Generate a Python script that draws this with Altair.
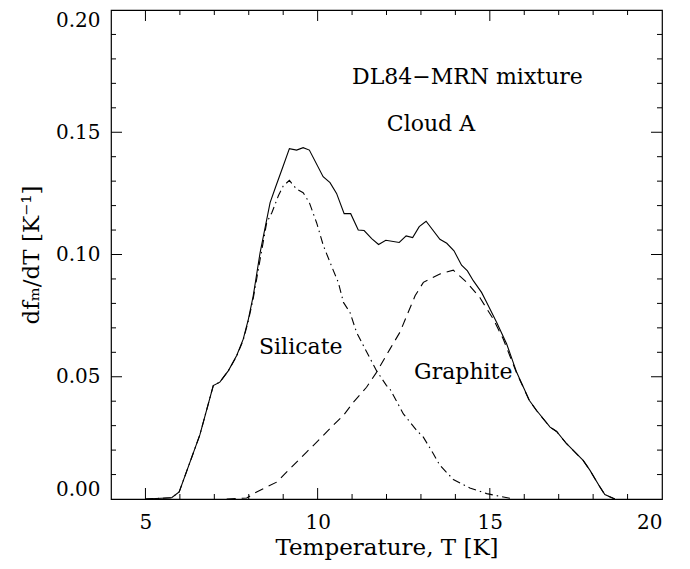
import altair as alt
import pandas as pd

# ---- data ----
total_T = [5.0, 5.76, 5.98, 6.58, 6.97, 7.16, 7.41, 7.65, 7.84, 7.99, 8.13, 8.33, 8.62, 8.79, 9.0, 9.18,
           9.39, 9.58, 9.76, 10.16, 10.36, 10.55, 10.77, 10.96, 11.18, 11.35, 11.57, 11.77, 11.98, 12.37,
           12.57, 12.76, 12.95, 13.15, 13.55, 13.75, 13.96, 14.18, 14.35, 14.52, 14.76, 14.91, 15.2,
           15.49, 15.78, 16.15, 16.36, 16.75, 16.94, 17.23, 17.71, 17.91, 18.18, 18.34, 18.63]
total_v = [0.0, 0.0005, 0.0029, 0.0262, 0.0464, 0.0478, 0.0525, 0.0587, 0.0654, 0.0736, 0.0831, 0.1008,
           0.1212, 0.128, 0.1362, 0.1433, 0.1427, 0.1437, 0.1427, 0.1318, 0.1294, 0.125, 0.1167, 0.1167,
           0.110, 0.1098, 0.1065, 0.1041, 0.1058, 0.1049, 0.1076, 0.1069, 0.1114, 0.1136, 0.1062, 0.1046,
           0.1015, 0.0956, 0.0933, 0.0893, 0.0845, 0.0804, 0.0722, 0.0634, 0.0518, 0.0403, 0.0362,
           0.0294, 0.0276, 0.0226, 0.0158, 0.0117, 0.0053, 0.0018, 0.0]

silicate_T = [5.0, 5.76, 5.98, 6.58, 6.97, 7.16, 7.41, 7.65, 7.84, 7.99, 8.13, 8.33, 8.52, 8.67, 8.86,
              9.0, 9.18, 9.39, 9.58, 9.76, 9.97, 10.17, 10.44, 10.6, 10.75, 10.94, 11.13, 11.33, 11.71,
              12.0, 12.1, 12.49, 12.88, 13.07, 13.36, 13.55, 13.94, 14.42, 14.91, 15.68]
silicate_v = [0.0, 0.0005, 0.0029, 0.0262, 0.0464, 0.0478, 0.0525, 0.0585, 0.065, 0.073, 0.082, 0.098,
              0.113, 0.1171, 0.124, 0.128, 0.1303, 0.1267, 0.1253, 0.1212, 0.113, 0.1035, 0.094, 0.0886,
              0.0804, 0.0763, 0.0682, 0.0627, 0.0525, 0.0464, 0.045, 0.0348, 0.028, 0.0253, 0.0185,
              0.0138, 0.0080, 0.0045, 0.0022, 0.0]

graphite_T = [7.36, 7.94, 8.23, 8.81, 9.2, 9.68, 10.07, 10.45, 10.75, 11.04, 11.42, 11.71, 12.1, 12.39,
              12.59, 12.83, 13.07, 13.55, 13.94, 14.33, 14.71, 15.1, 15.39, 15.78, 16.15, 16.36, 16.75,
              16.94, 17.23, 17.71, 17.91, 18.18, 18.34, 18.63]
graphite_v = [0.0, 0.0004, 0.0029, 0.0069, 0.0124, 0.0192, 0.0246, 0.0301, 0.0342, 0.0396, 0.0457,
              0.0518, 0.0613, 0.0682, 0.075, 0.0831, 0.0886, 0.092, 0.0936, 0.0886, 0.0824, 0.0736,
              0.0654, 0.0515, 0.0402, 0.0361, 0.0294, 0.0276, 0.0226, 0.0158, 0.0117, 0.0053, 0.0018, 0.0]

x_label_values = [5, 10, 15, 20]
y_label_values = [0.0, 0.05, 0.10, 0.15, 0.20]
x_major_ticks = [5, 10, 15]
x_minor_ticks = [6, 7, 8, 9, 11, 12, 13, 14, 16, 17, 18, 19]
y_major_ticks = [0.05, 0.10, 0.15]
y_minor_ticks = [0.01, 0.02, 0.03, 0.04, 0.06, 0.07, 0.08, 0.09, 0.11, 0.12, 0.13, 0.14,
                 0.16, 0.17, 0.18, 0.19]

note_text = ["DL84\u2212MRN mixture", "Cloud A", "Silicate", "Graphite"]
note_T = [14.35, 13.29, 9.51, 14.23]
note_v = [0.1727, 0.1532, 0.062, 0.0518]

# ---- layout ----
W, H = 551, 489
FONT = "DejaVu Serif"

xs = alt.Scale(domain=[4, 20], nice=False, zero=False)
ys = alt.Scale(domain=[0, 0.2], nice=False, zero=False)

xaxis = alt.Axis(values=x_label_values, format="d", ticks=False, domain=False, grid=False,
                 labelFont=FONT, labelFontSize=20, labelColor="black", labelPadding=13,
                 title="Temperature, T [K]", titleFont=FONT, titleFontSize=23,
                 titleFontWeight="normal", titleColor="black", titlePadding=4)
yaxis = alt.Axis(values=y_label_values, format=".2f", ticks=False, domain=False, grid=False,
                 labelFont=FONT, labelFontSize=20, labelColor="black", labelPadding=11,
                 labelFlush=True,
                 title="df\u2098/dT [K\u207b\u00b9]", titleFont=FONT, titleFontSize=23,
                 titleFontWeight="normal", titleColor="black", titleAngle=270,
                 titleX=-80, titleY=H / 2, titleAlign="center", titleBaseline="middle")


def curve(T, v, dash=None):
    df = pd.DataFrame({"T": T, "v": v})
    kw = dict(color="black", strokeWidth=1.1)
    if dash is not None:
        kw["strokeDash"] = dash
    return alt.Chart(df).mark_line(**kw).encode(
        x=alt.X("T:Q", scale=xs, axis=xaxis),
        y=alt.Y("v:Q", scale=ys, axis=yaxis),
    )


def xticks(vals, length):
    df = pd.DataFrame({"T": vals})
    base = alt.Chart(df).mark_rule(color="black", strokeWidth=1)
    bottom = base.encode(x=alt.X("T:Q", scale=xs, axis=xaxis), y=alt.value(H), y2=alt.value(H - length))
    top = base.encode(x=alt.X("T:Q", scale=xs, axis=xaxis), y=alt.value(0), y2=alt.value(length))
    return [bottom, top]


def yticks(vals, length):
    df = pd.DataFrame({"v": vals})
    base = alt.Chart(df).mark_rule(color="black", strokeWidth=1)
    left = base.encode(y=alt.Y("v:Q", scale=ys, axis=yaxis), x=alt.value(0), x2=alt.value(length))
    right = base.encode(y=alt.Y("v:Q", scale=ys, axis=yaxis), x=alt.value(W), x2=alt.value(W - length))
    return [left, right]


notes = alt.Chart(pd.DataFrame({"T": note_T, "v": note_v, "label": note_text})).mark_text(
    font=FONT, fontSize=22, color="black", align="center", baseline="middle"
).encode(
    x=alt.X("T:Q", scale=xs, axis=xaxis),
    y=alt.Y("v:Q", scale=ys, axis=yaxis),
    text="label:N",
)

layers = [
    curve(total_T, total_v),
    curve(silicate_T, silicate_v, [8, 4, 1.5, 4]),
    curve(graphite_T, graphite_v, [9, 6]),
]
layers += xticks(x_major_ticks, 11) + xticks(x_minor_ticks, 5)
layers += yticks(y_major_ticks, 11) + yticks(y_minor_ticks, 5)
layers.append(notes)

chart = alt.layer(*layers).properties(
    width=W, height=H,
    autosize=alt.AutoSizeParams(type="none"),
    padding={"left": 103, "top": 2, "right": 20, "bottom": 62},
    background="white",
).configure_view(stroke="black", strokeWidth=1.2)

chart.save("out.html", embed_options={"renderer": "svg", "actions": False})
